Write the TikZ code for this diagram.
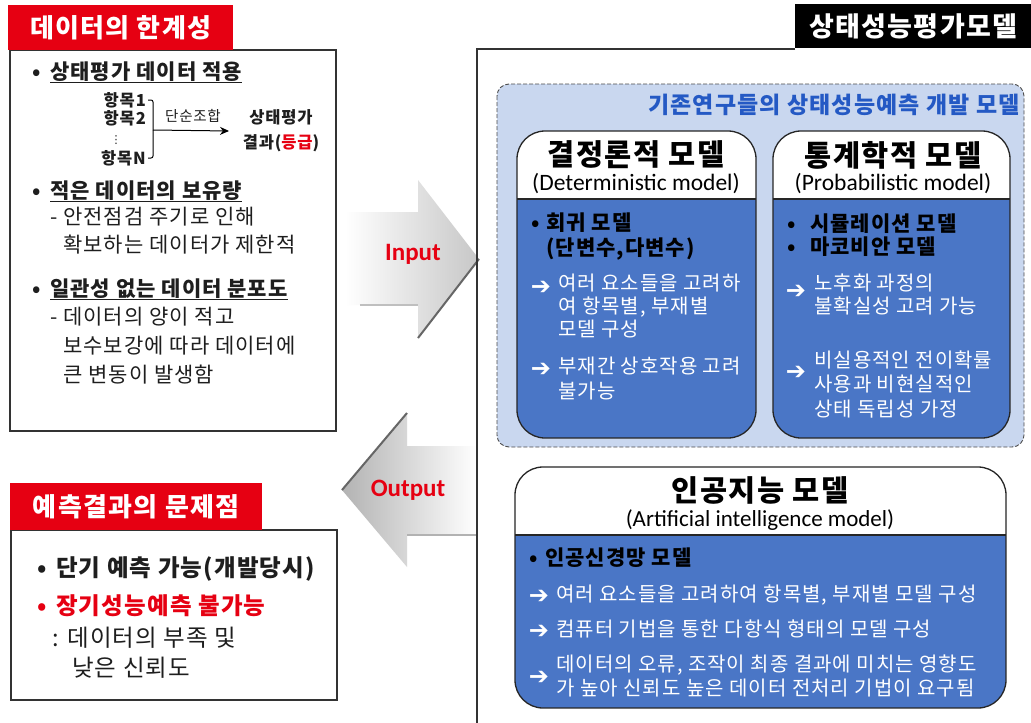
\documentclass[tikz,border=0pt]{standalone}
\usepackage{fontspec}
\setmainfont{Noto Sans CJK KR}[LetterSpace=5]
\newfontfamily\latfont{Carlito}
\newfontfamily\symfont{DejaVu Sans}
\usetikzlibrary{arrows.meta}
\definecolor{tred}{HTML}{E60012}
\definecolor{cardblue}{HTML}{4A76C6}
\definecolor{panelblue}{HTML}{C9D7EF}
\definecolor{headblue}{HTML}{2459C4}
\definecolor{txtgray}{HTML}{1E1E1E}
\newcommand\fsz[1]{\fontsize{#1}{#1}\selectfont}
\newcommand\mycard[5]{%
  \begin{scope}
    \clip[rounded corners=28] (#1,#2) rectangle (#3,#4);
    \fill[white] (#1,#2) rectangle (#3,#5);
    \fill[cardblue] (#1,#5) rectangle (#3,#4);
  \end{scope}
  \draw[cardedge] (#1,#5) -- (#3,#5);
  \draw[cardedge, rounded corners=28] (#1,#2) rectangle (#3,#4);
}
\begin{document}
\begin{tikzpicture}[x=1pt,y=-1pt,
  txt/.style={anchor=base west, inner sep=0pt, text=txtgray},
  wtxt/.style={anchor=base west, inner sep=0pt, text=white, font=\fsz{20}},
  ctxt/.style={anchor=center, inner sep=0pt},
  boxedge/.style={draw=black!80, line width=1.1pt},
  cardedge/.style={draw=black!85, line width=1.3pt},
  redtitle/.style={fill=tred, text=white, font=\bfseries\fsz{26}, inner sep=0pt, anchor=north west},
  arrw/.style={anchor=center, inner sep=0pt, text=white, font=\symfont\bfseries\fsz{24}},
  bul/.style={anchor=base west, inner sep=0pt, font=\bfseries\fsz{21}}
]
\useasboundingbox (0,0) rectangle (1031,723);
\fill[white] (0,0) rectangle (1031,723);

% ---------------- left top: data limitations
\draw[boxedge] (10,50) rectangle (336,431);
\node[redtitle, minimum width=225pt, minimum height=45pt] (rt1) at (8,5) {데이터의 한계성};

\node[bul, text=txtgray] (a0) at (32,79) {•};
\node[txt, font=\bfseries\fsz{21}] (a1) at (50,79) {\underline{상태평가 데이터 적용}};

\node[txt, anchor=base east, font=\bfseries\fsz{16.5}] (h1) at (146,106) {항목1};
\node[txt, anchor=base east, font=\bfseries\fsz{16.5}] (h2) at (146,124) {항목2};
\node[ctxt, font=\symfont\fsz{11}, text=txtgray] (hd) at (116,140) {⋮};
\node[txt, anchor=base east, font=\bfseries\fsz{16.5}] (hn) at (146,164) {항목N};
\coordinate (bt) at (148,100);
\coordinate (bb) at (148,158);
\coordinate (bm) at (153,130);
\draw[line width=1pt, rounded corners=2pt] (bt) -- (153,100) -- (153,158) -- (bb);
\node[ctxt, font=\fsz{14.5}, text=txtgray] (sc) at (193,116) {단순조합};
\node[ctxt, align=center, font=\bfseries\fontsize{16.5}{25}\selectfont, text=txtgray, inner sep=2pt] (res) at (281,131) {상태평가\\결과(\textcolor{tred}{등급})};
\draw[line width=1pt, -{Stealth[length=9pt,width=8pt]}] (bm) -- (res.west -| 229,130);

\node[bul, text=txtgray] (b0) at (32,198) {•};
\node[txt, font=\bfseries\fsz{21}] (b1) at (50,198) {\underline{적은 데이터의 보유량}};
\node[txt, font=\fsz{21}] (b2) at (50,224) {- 안전점검 주기로 인해};
\node[txt, font=\fsz{21}] (b3) at (63,252) {확보하는 데이터가 제한적};

\node[bul, text=txtgray] (c0) at (32,296) {•};
\node[txt, font=\bfseries\fsz{21}] (c1) at (50,296) {\underline{일관성 없는 데이터 분포도}};
\node[txt, font=\fsz{21}] (c2) at (50,324) {- 데이터의 양이 적고};
\node[txt, font=\fsz{21}] (c3) at (63,353) {보수보강에 따라 데이터에};
\node[txt, font=\fsz{21}] (c4) at (63,382) {큰 변동이 발생함};

% ---------------- left bottom: prediction problems
\draw[boxedge] (11,530) rectangle (337,700);
\node[redtitle, minimum width=252pt, minimum height=47pt] (rt2) at (10,483) {예측결과의 문제점};
\node[bul, text=txtgray, font=\bfseries\fsz{23.5}] (d0) at (37,576) {•};
\node[txt, font=\bfseries\fsz{23.5}] (d1) at (56,576) {단기 예측 가능(개발당시)};
\node[bul, text=tred, font=\bfseries\fsz{23.5}] (e0) at (37,614) {•};
\node[txt, text=tred, font=\bfseries\fsz{23.5}] (e1) at (56,614) {장기성능예측 불가능};
\node[txt, font=\fsz{23.5}] (e2) at (52,646) {: 데이터의 부족 및};
\node[txt, font=\fsz{23.5}] (e3) at (72,676) {낮은 신뢰도};

% ---------------- arrows Input / Output
\shade[left color=white, right color=black!22]
  (345,212) -- (418,212) -- (418,180) -- (479,259) -- (418,338) -- (418,305) -- (345,305) -- cycle;
\draw[black!60, line width=2pt] (479,259) -- (418,338);
\draw[black!25, line width=1.5pt] (360,305) -- (418,305);
\node[ctxt, font=\latfont\bfseries\fsz{25}, text=tred] (inp) at (413,254) {Input};

\shade[left color=black!30, right color=white]
  (342,490) -- (407,413) -- (407,446) -- (477,446) -- (477,535) -- (407,535) -- (407,567) -- cycle;
\draw[black!60, line width=2pt] (342,490) -- (407,413);
\draw[black!30, line width=1.5pt] (407,535) -- (477,535);
\node[ctxt, font=\latfont\bfseries\fsz{25}, text=tred] (outp) at (408,490) {Output};

% ---------------- right frame
\draw[boxedge] (795,49) -- (477,49) -- (477,723);
\node[fill=black, text=white, font=\bfseries\fsz{27}, inner sep=0pt, minimum width=236pt, minimum height=44pt, anchor=north west] (bt1) at (795,4) {상태성능평가모델};

% dashed panel
\draw[fill=panelblue, draw=black!70, dash pattern=on 4pt off 2pt, line width=0.9pt, rounded corners=12] (497,84) rectangle (1024,447);
\node[anchor=base east, inner sep=0pt, text=headblue, font=\bfseries\fsz{23}] (ph) at (1020,113) {기존연구들의 상태성능예측 개발 모델};

% card 1
\mycard{517}{131}{756}{438}{199}
\node[ctxt, font=\bfseries\fsz{29.5}] (k1t) at (636,155) {결정론적 모델};
\node[ctxt, font=\latfont\fsz{23.5}] (k1e) at (636,184) {(Deterministic model)};
\node[bul, text=black] (k1b) at (531,230) {•};
\node[txt, text=black, font=\bfseries\fsz{21}] (k1a) at (546,230) {회귀 모델};
\node[txt, text=black, font=\bfseries\fsz{21}] (k1c) at (546,255) {(단변수,다변수)};
\node[arrw] (k1r1) at (541,288) {➔};
\node[wtxt] (k1d) at (558,290) {여러 요소들을 고려하};
\node[wtxt] (k1e2) at (558,313) {여 항목별, 부재별};
\node[wtxt] (k1f) at (558,336) {모델 구성};
\node[arrw] (k1r2) at (541,370) {➔};
\node[wtxt] (k1g) at (558,373) {부재간 상호작용 고려};
\node[wtxt] (k1h) at (558,398) {불가능};

% card 2
\mycard{773}{131}{1010}{438}{199}
\node[ctxt, font=\bfseries\fsz{29.5}] (k2t) at (893,155) {통계학적 모델};
\node[ctxt, font=\latfont\fsz{23.5}] (k2e) at (893,184) {(Probabilistic model)};
\node[bul, text=black] (k2b1) at (787,231) {•};
\node[txt, text=black, font=\bfseries\fsz{21}] (k2a) at (810,231) {시뮬레이션 모델};
\node[bul, text=black] (k2b2) at (787,254) {•};
\node[txt, text=black, font=\bfseries\fsz{21}] (k2c) at (810,254) {마코비안 모델};
\node[arrw] (k2r1) at (796,292) {➔};
\node[wtxt] (k2d) at (814,290) {노후화 과정의};
\node[wtxt] (k2f) at (814,313) {불확실성 고려 가능};
\node[arrw] (k2r2) at (796,373) {➔};
\node[wtxt] (k2g) at (814,367) {비실용적인 전이확률};
\node[wtxt] (k2h) at (814,391) {사용과 비현실적인};
\node[wtxt] (k2i) at (814,416) {상태 독립성 가정};

% card 3
\mycard{515}{467}{1006}{708}{535}
\node[ctxt, font=\bfseries\fsz{29.5}] (k3t) at (760,490) {인공지능 모델};
\node[ctxt, font=\latfont\fsz{23}] (k3e) at (760,520) {(Artificial intelligence model)};
\node[bul, text=black] (k3b) at (529,565) {•};
\node[txt, text=black, font=\bfseries\fsz{21}] (k3a) at (545,565) {인공신경망 모델};
\node[arrw] (k3r1) at (539,597) {➔};
\node[wtxt] (k3c) at (556,601) {여러 요소들을 고려하여 항목별, 부재별 모델 구성};
\node[arrw] (k3r2) at (539,632) {➔};
\node[wtxt] (k3d) at (556,636) {컴퓨터 기법을 통한 다항식 형태의 모델 구성};
\node[arrw] (k3r3) at (539,678) {➔};
\node[wtxt] (k3f) at (556,671) {데이터의 오류, 조작이 최종 결과에 미치는 영향도};
\node[wtxt] (k3g) at (556,695) {가 높아 신뢰도 높은 데이터 전처리 기법이 요구됨};
\end{tikzpicture}
\end{document}
